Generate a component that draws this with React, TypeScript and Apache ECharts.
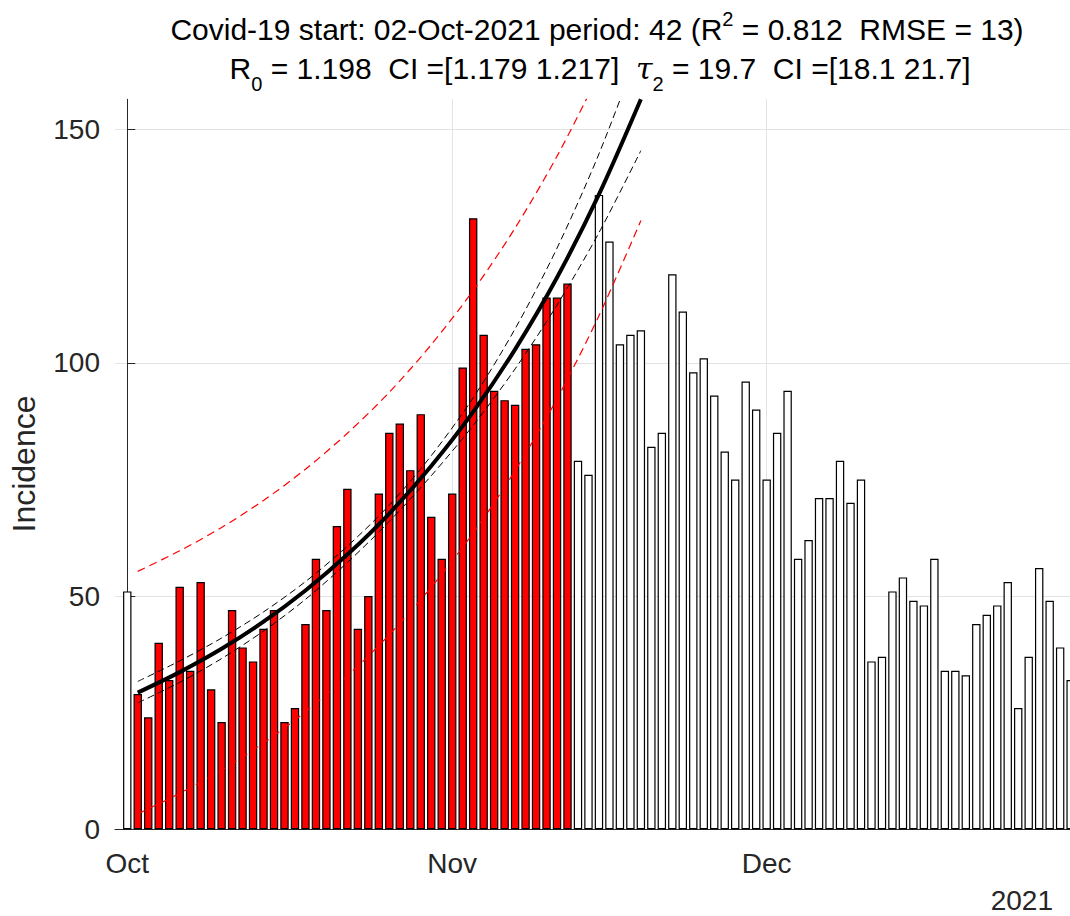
import React, { useEffect, useRef } from "react";
import * as echarts from "echarts";

// ---- data (days counted from 01-Oct-2021) ----
const monthLabels = ["Oct", "Nov", "Dec"];
const monthStartDays = [0, 31, 61];
const yearLabel = "2021";

const octIncidence = [51, 29, 24, 40, 32, 52, 34, 53, 30, 23, 47, 39, 36, 43, 47, 23, 26, 44, 58, 47, 65, 73, 43, 50, 72, 85, 87, 77, 89, 67, 58];
const novIncidence = [72, 99, 131, 106, 94, 92, 91, 103, 104, 114, 114, 117, 79, 76, 136, 126, 104, 106, 107, 82, 85, 119, 111, 98, 101, 93, 81, 75, 96, 90];
const decIncidence = [75, 85, 94, 58, 62, 71, 71, 79, 70, 75, 36, 37, 51, 54, 49, 48, 58, 34, 34, 33, 44, 46, 48, 53, 26, 37, 56, 49, 39, 32];

const fitStartDay = 1; // 02-Oct-2021
const fitPeriod = 42;

const curveDays = [1, 5, 9, 13, 17, 21, 25, 29, 33, 37, 41, 45, 49];
const fitCurve = [29.3, 33.7, 38.7, 44.5, 51.2, 58.9, 67.7, 77.9, 89.5, 102.9, 118.3, 136.1, 156.5];
const ciUpper = [31.7, 36.1, 41.0, 46.6, 53.1, 60.7, 69.5, 80.1, 92.5, 107.3, 124.6, 144.8, 168.3];
const ciLower = [27.1, 31.5, 36.6, 42.5, 49.3, 57.2, 66.0, 75.8, 86.6, 98.7, 112.4, 127.9, 145.5];
const predUpper = [55.3, 59.7, 64.7, 70.5, 77.2, 84.9, 93.7, 103.9, 115.5, 128.9, 144.3, 162.1, 182.5];
const predLower = [3.3, 7.7, 12.7, 18.5, 25.2, 32.9, 41.7, 51.9, 63.5, 76.9, 92.3, 110.1, 130.5];

const yTicks = [0, 50, 100, 150];

const titleLine1 = "Covid-19 start: 02-Oct-2021 period: 42 (R{sup|2} = 0.812  RMSE = 13)";
const titleLine2 = "R{sub|0} = 1.198  CI =[1.179 1.217]  {tau|τ}{sub|2} = 19.7  CI =[18.1 21.7]";
const yAxisTitle = "Incidence";

const FONT = "'Liberation Sans', Arial, Helvetica, sans-serif";

export default function App() {
  const ref = useRef<HTMLDivElement>(null);

  useEffect(() => {
    if (!ref.current) return;
    const chart = echarts.init(ref.current, undefined, { renderer: "svg" });

    const allIncidence = [...octIncidence, ...novIncidence, ...decIncidence];
    const barData = allIncidence.map((v, day) => {
      const inFit = day >= fitStartDay && day < fitStartDay + fitPeriod;
      return {
        value: [day, v],
        itemStyle: { color: inFit ? "#ff0000" : "#ffffff" },
      };
    });
    const pairs = (vals: number[]) => curveDays.map((d, i) => [d, vals[i]]);

    const lineBase = {
      type: "line",
      showSymbol: false,
      symbol: "none",
      smooth: 0.3,
      clip: true,
      silent: true,
      z: 5,
    };

    const richCommon = {
      sup: { fontSize: 20, fontFamily: FONT, fill: "#000", lineHeight: 40, padding: [0, 0, 20, 0] },
      sub: { fontSize: 20, fontFamily: FONT, fill: "#000", lineHeight: 40, padding: [32, 0, 0, 0] },
      tau: { fontSize: 30, fontFamily: "'DejaVu Serif', serif", fontStyle: "italic", fill: "#000", lineHeight: 40 },
    };

    const option: any = {
      animation: false,
      backgroundColor: "#ffffff",
      grid: { left: 115, right: 0, top: 99.3, bottom: 86.7, containLabel: false },
      xAxis: {
        type: "value",
        min: -1.17,
        max: 89.94,
        axisLine: { show: true, lineStyle: { color: "#262626", width: 1 } },
        axisTick: { show: true, inside: true, length: 8, customValues: monthStartDays, lineStyle: { color: "#262626" } },
        axisLabel: {
          show: true,
          customValues: monthStartDays,
          margin: 20,
          fontSize: 28,
          fontFamily: FONT,
          color: "#262626",
          formatter: (v: number) => {
            const i = monthStartDays.indexOf(Math.round(v));
            return i >= 0 ? monthLabels[i] : "";
          },
        },
        splitLine: { show: true, lineStyle: { color: "#e3e3e3", width: 1 } },
      },
      yAxis: {
        type: "value",
        min: 0,
        max: 156.5,
        interval: 50,
        axisLine: { show: true, lineStyle: { color: "#262626", width: 1 } },
        axisTick: { show: true, inside: true, length: 8, customValues: yTicks, lineStyle: { color: "#262626" } },
        axisLabel: {
          show: true,
          customValues: yTicks,
          margin: 15,
          fontSize: 28,
          fontFamily: FONT,
          color: "#262626",
        },
        splitLine: { show: true, lineStyle: { color: "#e3e3e3", width: 1 } },
      },
      series: [
        {
          type: "bar",
          data: barData,
          barWidth: 8.4,
          clip: true,
          itemStyle: { borderColor: "#000000", borderWidth: 1.2 },
          z: 2,
        },
        { ...lineBase, data: pairs(predUpper), lineStyle: { color: "#ff0000", width: 1.2, type: [8, 5] } },
        { ...lineBase, data: pairs(predLower), lineStyle: { color: "#ff0000", width: 1.2, type: [8, 5] } },
        { ...lineBase, data: pairs(ciUpper), lineStyle: { color: "#000000", width: 1, type: [7, 4] } },
        { ...lineBase, data: pairs(ciLower), lineStyle: { color: "#000000", width: 1, type: [7, 4] } },
        { ...lineBase, data: pairs(fitCurve), lineStyle: { color: "#000000", width: 4 }, z: 6 },
      ],
      graphic: [
        {
          type: "text",
          x: 597,
          y: 29,
          style: {
            text: titleLine1,
            fontSize: 30,
            fontFamily: FONT,
            fill: "#000",
            align: "center",
            verticalAlign: "middle",
            lineHeight: 40,
            rich: richCommon,
          },
        },
        {
          type: "text",
          x: 600,
          y: 68,
          style: {
            text: titleLine2,
            fontSize: 30,
            fontFamily: FONT,
            fill: "#000",
            align: "center",
            verticalAlign: "middle",
            lineHeight: 40,
            rich: richCommon,
          },
        },
        {
          type: "text",
          x: 24,
          y: 464,
          rotation: Math.PI / 2,
          style: {
            text: yAxisTitle,
            fontSize: 32,
            fontFamily: FONT,
            fill: "#262626",
            align: "center",
            verticalAlign: "middle",
          },
        },
        {
          type: "text",
          x: 1053,
          y: 900,
          style: {
            text: yearLabel,
            fontSize: 28,
            fontFamily: FONT,
            fill: "#262626",
            align: "right",
            verticalAlign: "middle",
          },
        },
      ],
    };

    chart.setOption(option);
    return () => chart.dispose();
  }, []);

  return (
    <div
      ref={ref}
      style={{ position: "absolute", left: 0, top: 0, width: 1070, height: 916, background: "#fff" }}
    />
  );
}
